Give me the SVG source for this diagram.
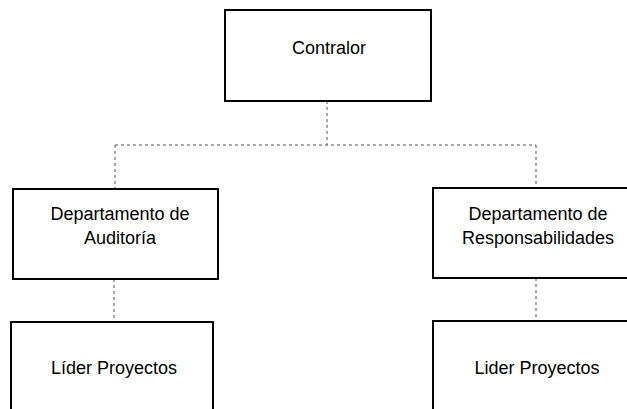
<svg xmlns="http://www.w3.org/2000/svg" width="627" height="409" viewBox="0 0 627 409">
<style>
.box{fill:#fff;stroke:#000;stroke-width:2}
.t{font-family:"Liberation Sans",Arial,sans-serif;font-size:18px;fill:#000;text-anchor:middle}
.c{fill:none;stroke:#555;stroke-width:1;stroke-dasharray:3,3}
</style>
<rect width="627" height="409" fill="#fff"/>
<g id="connectors">
<path class="c" d="M327,101 V145"/>
<path class="c" d="M115,145 H536"/>
<path class="c" d="M115,145 V189"/>
<path class="c" d="M536,145 V188"/>
<path class="c" d="M114,279 V322"/>
<path class="c" d="M536,278 V321"/>
</g>
<g id="contralor">
<rect class="box" x="225" y="10" width="206" height="91"/>
<text class="t" x="329" y="54">Contralor</text>
</g>
<g id="dep-auditoria">
<rect class="box" x="13" y="189" width="205" height="90"/>
<text class="t" x="120" y="220">Departamento de</text>
<text class="t" x="120" y="244">Auditoría</text>
</g>
<g id="dep-responsabilidades">
<rect class="box" x="433" y="188" width="210" height="90"/>
<text class="t" x="538" y="220">Departamento de</text>
<text class="t" x="538" y="244">Responsabilidades</text>
</g>
<g id="lider-1">
<rect class="box" x="11" y="322" width="202" height="100"/>
<text class="t" x="114" y="374">Líder Proyectos</text>
</g>
<g id="lider-2">
<rect class="box" x="433" y="321" width="210" height="100"/>
<text class="t" x="537" y="374">Lider Proyectos</text>
</g>
</svg>
